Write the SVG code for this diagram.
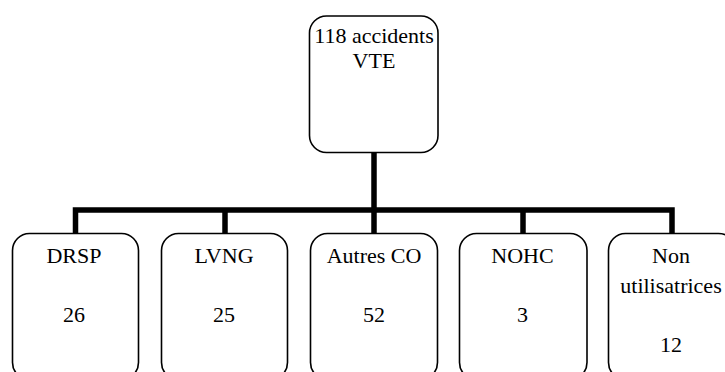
<svg xmlns="http://www.w3.org/2000/svg" width="725" height="372" viewBox="0 0 725 372">
  <style>
    .box { fill: #ffffff; stroke: #000000; stroke-width: 1.6; }
    .link { fill: none; stroke: #000000; stroke-width: 5.5; stroke-linejoin: miter; stroke-linecap: butt; }
    text { font-size: 22px; fill: #000000; text-anchor: middle; }
  </style>
  <rect width="725" height="372" fill="#ffffff"/>

  <!-- tree connectors -->
  <g id="connectors">
    <path class="link" d="M374,152 V210"/>
    <path class="link" d="M75.5,234 V210 H672 V234"/>
    <path class="link" d="M225,234 V210"/>
    <path class="link" d="M374,234 V210"/>
    <path class="link" d="M523,234 V210"/>
  </g>

  <g font-family="Liberation Serif, Times New Roman, DejaVu Serif, serif">
    <!-- root -->
    <g id="root">
      <rect class="box" x="309.5" y="16" width="128.5" height="136.5" rx="17" ry="17"/>
      <text x="374" y="43">118 accidents</text>
      <text x="374" y="68">VTE</text>
    </g>

    <!-- categories -->
    <g id="drsp">
      <rect class="box" x="12.5" y="233.5" width="126" height="146" rx="17" ry="17"/>
      <text x="74" y="263">DRSP</text>
      <text x="74" y="322">26</text>
    </g>
    <g id="lvng">
      <rect class="box" x="161.5" y="233.5" width="126" height="146" rx="17" ry="17"/>
      <text x="224" y="263">LVNG</text>
      <text x="224" y="322">25</text>
    </g>
    <g id="autres-co">
      <rect class="box" x="310.5" y="233.5" width="127" height="146" rx="17" ry="17"/>
      <text x="374" y="263">Autres CO</text>
      <text x="374" y="322">52</text>
    </g>
    <g id="nohc">
      <rect class="box" x="459.5" y="233.5" width="127.5" height="146" rx="17" ry="17"/>
      <text x="522.5" y="263">NOHC</text>
      <text x="522.5" y="322">3</text>
    </g>
    <g id="non-utilisatrices">
      <rect class="box" x="608.5" y="233.5" width="127" height="146" rx="17" ry="17"/>
      <text x="671" y="263">Non</text>
      <text x="671" y="293">utilisatrices</text>
      <text x="671" y="352">12</text>
    </g>
  </g>
</svg>
